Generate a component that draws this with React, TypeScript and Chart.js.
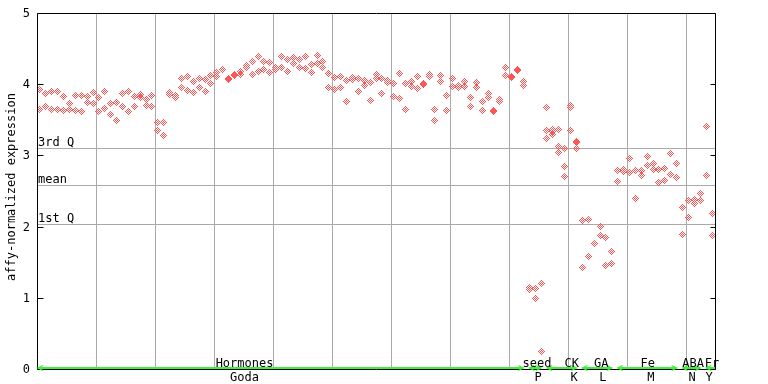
import React, { useEffect, useRef } from "react";
import { Chart, registerables } from "chart.js";

Chart.register(...registerables);

// ---- data ----
const sampleCount = 115;

const rep1: (number | null)[] = [
  3.93, 3.87, 3.90, 3.90, 3.83, 3.73, 3.84, 3.84, 3.83, 3.89,
  3.81, 3.90, 3.73, 3.75, 3.87, 3.90, 3.83, 3.85, 3.79, 3.84,
  3.46, 3.46, 3.89, 3.84, 4.08, 4.11, 4.04, 4.08, 4.07, 4.12,
  4.17, 4.21, 4.08, 4.13, 4.18, 4.26, 4.32, 4.39, 4.32, 4.31,
  4.24, 4.39, 4.34, 4.38, 4.34, 4.39, 4.28, 4.41, 4.32, 4.15,
  4.10, 4.11, 4.05, 4.10, 4.08, 4.05, 4.03, 4.14, 4.08, 4.05,
  4.01, 4.15, 4.01, 4.04, 4.11, 4.01, 4.13, 3.65, 4.12, 3.84,
  4.08, 3.98, 4.04, 3.81, 4.03, 3.76, 3.87, 3.63, 3.78, 4.24,
  4.11, 4.20, 4.04, 1.15, 1.13, 1.20, 3.67, 3.36, 3.36, 3.10,
  3.70, 3.20, 2.09, 2.10, 1.76, 2.00, 1.85, 1.65, 2.79, 2.80,
  2.95, 2.79, 2.79, 2.99, 2.89, 2.80, 2.82, 3.03, 2.88, 2.27,
  2.36, 2.38, 2.47, 3.41, 2.19,
];

const rep2: (number | null)[] = [
  3.65, 3.68, 3.65, 3.65, 3.63, 3.65, 3.63, 3.62, 3.75, 3.73,
  3.62, 3.66, 3.58, 3.49, 3.69, 3.61, 3.68, 3.82, 3.70, 3.68,
  3.35, 3.28, 3.86, 3.81, 3.96, 3.91, 3.89, 3.96, 3.90, 4.01,
  4.11, 4.20, 4.07, 4.12, 4.14, 4.24, 4.14, 4.18, 4.20, 4.17,
  4.21, 4.24, 4.18, 4.29, 4.24, 4.22, 4.17, 4.29, 4.24, 3.96,
  3.93, 3.96, 3.76, 4.06, 3.90, 3.98, 3.77, 4.08, 3.87, 4.03,
  3.83, 3.80, 3.65, 3.97, 3.94, 4.00, 4.11, 3.49, 4.04, 3.63,
  3.97, 3.96, 3.97, 3.69, 3.96, 3.63, 3.81, 3.61, 3.76, 4.12,
  4.10, 4.19, 3.98, 1.12, 0.99, 0.25, 3.35, 3.34, 3.13, 2.85,
  3.67, 3.18, 1.43, 1.58, null, 1.87, 1.46, 1.48, 2.64, 2.77,
  2.76, 2.39, 2.72, 2.86, 2.80, 2.62, 2.65, 2.73, 2.69, 1.89,
  2.13, 2.33, 2.36, 2.72, 1.87,
];

const rep3: (number | null)[] = Array.from({ length: sampleCount }, () => null);
const rep3Values: [number, number][] = [
  [86, 3.24], [87, 3.30], [88, 3.04], [89, 2.71], [90, 3.35], [91, 3.10],
];
rep3Values.forEach(([i, v]) => { rep3[i] = v; });

const yTicks = [0, 1, 2, 3, 4, 5];
const quartileLabels = ["3rd Q", "mean", "1st Q"];
const quartileValues = [3.10, 2.58, 2.04];

const groupTop = ["Hormones", "seed", "CK", "GA", "Fe", "ABA", "Fr"];
const groupBottom = ["Goda", "P", "K", "L", "M", "N", "Y"];
const groupStart = [0, 83, 86, 92, 98, 109, 113];
const groupEnd = [83, 86, 92, 98, 109, 113, 115];

// label anchor positions on the sample axis
const topLabelPos = [35.2, 84.8, 90.7, 95.7, 103.6, 111.3, 114.5];
const bottomLabelPos = [35.2, 85.0, 91.1, 96.0, 104.1, 111.1, 114.0];

const yTitle = "affy-normalized expression";

// ---- styles ----
const POINT_COLOR = "#ff5555";
const GRID_COLOR = "#aaaaaa";
const GREEN = "#3cf03c";
const FONT = '12px "DejaVu Sans Mono", monospace';

function makeDiamond(color: string): HTMLCanvasElement {
  const c = document.createElement("canvas");
  c.width = 7;
  c.height = 7;
  const g = c.getContext("2d")!;
  g.fillStyle = color;
  for (let dy = -3; dy <= 3; dy++) {
    for (let dx = -3; dx <= 3; dx++) {
      if (Math.abs(dx) + Math.abs(dy) <= 3 && ((dx + dy) & 1)) {
        g.fillRect(dx + 3, dy + 3, 1, 1);
      }
    }
  }
  return c;
}

const toPoints = (arr: (number | null)[]) =>
  arr.map((y, i) => ({ x: i + 0.5, y })).filter((p) => p.y !== null);

export default function App() {
  const ref = useRef<HTMLCanvasElement>(null);

  useEffect(() => {
    if (!ref.current) return;
    const diamond = makeDiamond(POINT_COLOR);

    const decor = {
      id: "decor",
      beforeDatasetsDraw(chart: any) {
        const { ctx, chartArea: a, scales } = chart;
        const xs = scales.x;
        const ys = scales.y;
        ctx.save();
        ctx.strokeStyle = GRID_COLOR;
        ctx.lineWidth = 1;
        for (let v = 10; v < sampleCount; v += 10) {
          const px = Math.round(xs.getPixelForValue(v)) + 0.5;
          ctx.beginPath();
          ctx.moveTo(px, a.top);
          ctx.lineTo(px, a.bottom);
          ctx.stroke();
        }
        ctx.font = FONT;
        ctx.fillStyle = "#000";
        ctx.textAlign = "left";
        ctx.textBaseline = "alphabetic";
        quartileValues.forEach((q, k) => {
          const py = Math.round(ys.getPixelForValue(q)) + 0.5;
          ctx.beginPath();
          ctx.moveTo(a.left, py);
          ctx.lineTo(a.right, py);
          ctx.stroke();
          ctx.fillText(quartileLabels[k], a.left + 1, py - 2.5);
        });
        ctx.restore();
        ctx.imageSmoothingEnabled = false;
      },
      afterDatasetsDraw(chart: any) {
        const { ctx, chartArea: a, scales } = chart;
        const xs = scales.x;
        const ys = scales.y;
        ctx.save();
        // frame
        ctx.strokeStyle = "#000";
        ctx.lineWidth = 1;
        const L = Math.round(a.left) + 0.5;
        const R = Math.round(a.right) + 0.5;
        const T = Math.round(a.top) + 0.5;
        const B = Math.round(a.bottom) + 0.5;
        ctx.beginPath();
        ctx.moveTo(L, T);
        ctx.lineTo(R, T);
        ctx.lineTo(R, B);
        ctx.lineTo(L, B);
        ctx.closePath();
        ctx.stroke();
        // ticks + labels
        ctx.font = FONT;
        ctx.fillStyle = "#000";
        ctx.textAlign = "right";
        ctx.textBaseline = "middle";
        yTicks.forEach((t) => {
          const py = Math.round(ys.getPixelForValue(t)) + 0.5;
          ctx.beginPath();
          ctx.moveTo(L, py);
          ctx.lineTo(L + 6, py);
          ctx.moveTo(R, py);
          ctx.lineTo(R - 5, py);
          ctx.stroke();
          ctx.fillText(String(t), 30, py);
        });
        // y title
        ctx.save();
        ctx.translate(12, 187);
        ctx.rotate(-Math.PI / 2);
        ctx.textAlign = "center";
        ctx.textBaseline = "middle";
        ctx.fillText(yTitle, 0, 0);
        ctx.restore();
        // green group segments
        ctx.strokeStyle = GREEN;
        ctx.lineWidth = 2;
        const gy = B - 1.5;
        groupStart.forEach((s, k) => {
          const x0 = xs.getPixelForValue(s) + (k === 0 ? 1 : 3);
          const x1 = xs.getPixelForValue(groupEnd[k]) - (k === groupStart.length - 1 ? 0 : 3);
          ctx.beginPath();
          ctx.moveTo(x0, gy);
          ctx.lineTo(x1, gy);
          ctx.stroke();
          ctx.lineWidth = 1.2;
          ctx.beginPath();
          ctx.moveTo(x0 + 5, gy - 2.5);
          ctx.lineTo(x0, gy);
          ctx.lineTo(x0 + 5, gy + 2.5);
          if (k !== groupStart.length - 1) {
            ctx.moveTo(x1 - 5, gy - 2.5);
            ctx.lineTo(x1, gy);
            ctx.lineTo(x1 - 5, gy + 2.5);
          }
          ctx.stroke();
          ctx.lineWidth = 2;
        });
        // group labels
        ctx.fillStyle = "#000";
        ctx.textAlign = "center";
        ctx.textBaseline = "alphabetic";
        groupTop.forEach((lab, k) => {
          ctx.fillText(lab, xs.getPixelForValue(topLabelPos[k]), 367);
        });
        groupBottom.forEach((lab, k) => {
          ctx.fillText(lab, xs.getPixelForValue(bottomLabelPos[k]), 381);
        });
        ctx.restore();
      },
    };

    const mk = (arr: (number | null)[], label: string) => ({
      label,
      data: toPoints(arr),
      pointStyle: diamond,
      pointRadius: 3.5,
      showLine: false,
    });

    const chart = new Chart(ref.current, {
      type: "scatter",
      data: {
        datasets: [mk(rep1, "rep1"), mk(rep2, "rep2"), mk(rep3, "rep3")],
      },
      options: {
        responsive: false,
        devicePixelRatio: 1,
        animation: false,
        events: [],
        layout: { padding: { left: 37, right: 53, top: 13, bottom: 15 } },
        plugins: { legend: { display: false }, tooltip: { enabled: false } },
        scales: {
          x: { type: "linear", display: false, min: 0, max: sampleCount },
          y: { type: "linear", display: false, min: 0, max: 5 },
        },
      },
      plugins: [decor],
    } as any);

    return () => chart.destroy();
  }, []);

  return (
    <div style={{ position: "fixed", left: 0, top: 0, width: 768, height: 384, background: "#fff" }}>
      <canvas ref={ref} width={768} height={384} style={{ width: 768, height: 384 }} />
    </div>
  );
}
